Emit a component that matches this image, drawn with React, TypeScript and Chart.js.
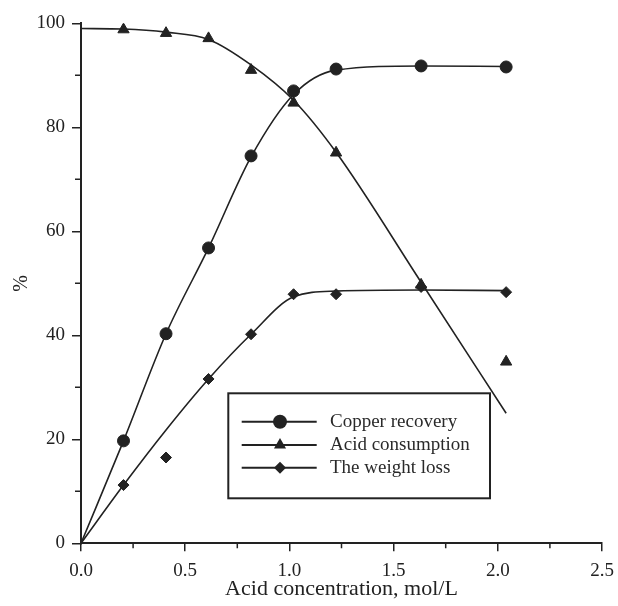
import React, { useEffect, useRef } from 'react';
import { Chart, registerables } from 'chart.js';

Chart.register(...registerables);

// Measured data (acid concentration, mol/L)
const concentration = [0.204, 0.408, 0.612, 0.816, 1.02, 1.224, 1.632, 2.04];
const copperRecovery = [19.7, 40.3, 56.8, 74.5, 87.0, 91.2, 91.8, 91.6];
const acidConsumption = [98.8, 98.1, 97.1, 91.0, 84.7, 75.1, 49.7, 34.9];
const weightLoss = [11.2, 16.5, 31.6, 40.2, 47.9, 47.9, 49.3, 48.3];

// Fitted curves
const fitConcentration = [0, 0.204, 0.408, 0.612, 0.816, 1.02, 1.224, 1.632, 2.04];
const copperFit = [0, 19.7, 40.3, 56.8, 74.3, 86.3, 91.0, 91.8, 91.7];
const acidFit = [99.0, 98.9, 98.3, 96.9, 92.0, 85.2, 75.2, 50.2, 25.0];
const weightFit = [0, 11.2, 21.8, 31.6, 40.2, 47.4, 48.5, 48.7, 48.6];

const xTicks = [0, 0.5, 1.0, 1.5, 2.0, 2.5];
const yTicks = [0, 20, 40, 60, 80, 100];
const xMinorTicks = [0.25, 0.75, 1.25, 1.75, 2.25];
const yMinorTicks = [10, 30, 50, 70, 90];

const seriesNames = ['Copper recovery', 'Acid consumption', 'The weight loss'];
const pointShapes = ['circle', 'triangle', 'rectRot'];

const INK = '#222222';
const FONT = '"Liberation Serif", "Times New Roman", serif';

function pts(xs: number[], ys: number[]) {
  return xs.map((x, i) => ({ x, y: ys[i] }));
}

function drawMarker(ctx: CanvasRenderingContext2D, shape: string, x: number, y: number, r: number) {
  ctx.beginPath();
  if (shape === 'circle') {
    ctx.arc(x, y, r, 0, Math.PI * 2);
  } else if (shape === 'triangle') {
    ctx.moveTo(x, y - r);
    ctx.lineTo(x + r * Math.sin(Math.PI * 2 / 3), y - r * Math.cos(Math.PI * 2 / 3));
    ctx.lineTo(x - r * Math.sin(Math.PI * 2 / 3), y - r * Math.cos(Math.PI * 2 / 3));
    ctx.closePath();
  } else {
    ctx.moveTo(x, y - r);
    ctx.lineTo(x + r, y);
    ctx.lineTo(x, y + r);
    ctx.lineTo(x - r, y);
    ctx.closePath();
  }
  ctx.fill();
}

export default function App() {
  const ref = useRef<HTMLCanvasElement>(null);

  useEffect(() => {
    document.body.style.margin = '0';
    document.documentElement.style.overflow = 'hidden';
    document.body.style.overflow = 'hidden';
    const canvas = ref.current;
    if (!canvas) return;

    const minorTicksPlugin = {
      id: 'minorTicks',
      afterDraw(chart: any) {
        const ctx = chart.ctx;
        const xs = chart.scales.x;
        const ys = chart.scales.y;
        const ca = chart.chartArea;
        ctx.save();
        ctx.strokeStyle = INK;
        ctx.lineWidth = 1.5;
        ctx.beginPath();
        yMinorTicks.forEach((v) => {
          const py = ys.getPixelForValue(v);
          ctx.moveTo(ca.left - 6, py);
          ctx.lineTo(ca.left, py);
        });
        xMinorTicks.forEach((v) => {
          const px = xs.getPixelForValue(v);
          ctx.moveTo(px, ca.bottom);
          ctx.lineTo(px, ca.bottom + 5);
        });
        ctx.stroke();
        ctx.restore();
      },
    };

    const legendPlugin = {
      id: 'boxLegend',
      afterDraw(chart: any) {
        const ctx = chart.ctx;
        const ca = chart.chartArea;
        const bx = ca.left + 147.3;
        const by = ca.top + 370;
        const bw = 261.7;
        const bh = 105;
        const rows = [28.4, 51.7, 74.4];
        const radii = [7, 7, 6];
        ctx.save();
        ctx.fillStyle = '#ffffff';
        ctx.fillRect(bx, by, bw, bh);
        ctx.strokeStyle = INK;
        ctx.lineWidth = 2;
        ctx.strokeRect(bx, by, bw, bh);
        seriesNames.forEach((name, i) => {
          const ry = by + rows[i];
          ctx.strokeStyle = INK;
          ctx.lineWidth = 2;
          ctx.beginPath();
          ctx.moveTo(bx + 13.4, ry);
          ctx.lineTo(bx + 88.4, ry);
          ctx.stroke();
          ctx.fillStyle = INK;
          drawMarker(ctx, pointShapes[i], bx + 51.7, ry, radii[i]);
          ctx.fillStyle = '#2a2a2a';
          ctx.font = `19px ${FONT}`;
          ctx.textAlign = 'left';
          ctx.textBaseline = 'middle';
          ctx.fillText(name, bx + 101.7, ry);
        });
        ctx.restore();
      },
    };

    const markerSets = [copperRecovery, acidConsumption, weightLoss].map((ys, i) => ({
      label: seriesNames[i],
      data: pts(concentration, ys),
      showLine: false,
      pointStyle: pointShapes[i],
      pointRadius: [6, 6.5, 5.5][i],
      pointBackgroundColor: INK,
      pointBorderColor: INK,
      pointBorderWidth: 1,
    }));

    const curveSets = [copperFit, acidFit, weightFit].map((ys, i) => ({
      label: seriesNames[i] + ' fit',
      data: pts(fitConcentration, ys),
      showLine: true,
      borderColor: INK,
      borderWidth: 1.6,
      pointRadius: 0,
      cubicInterpolationMode: 'monotone' as const,
      fill: false,
    }));

    const chart = new Chart(canvas, {
      type: 'scatter',
      data: { datasets: [...markerSets, ...curveSets] as any },
      options: {
        animation: false,
        responsive: false,
        maintainAspectRatio: false,
        layout: { padding: { top: 23.3, right: 16, left: 0, bottom: 0 } },
        plugins: {
          legend: { display: false },
          tooltip: { enabled: false },
        },
        scales: {
          x: {
            type: 'linear',
            min: 0,
            max: 2.5,
            afterBuildTicks(scale: any) {
              scale.ticks = xTicks.map((v) => ({ value: v }));
            },
            afterFit(scale: any) {
              scale.height = 62.7;
              scale.paddingLeft = 0;
              scale.paddingRight = 0;
            },
            ticks: {
              color: INK,
              font: { family: FONT, size: 19 },
              padding: 8,
              maxRotation: 0,
              autoSkip: false,
              callback: (v: any) => Number(v).toFixed(1),
            },
            grid: {
              display: true,
              drawOnChartArea: false,
              drawTicks: true,
              tickLength: 8,
              color: INK,
              lineWidth: 1.5,
            },
            border: { display: true, color: INK, width: 2 },
            title: {
              display: true,
              text: 'Acid concentration, mol/L',
              color: INK,
              font: { family: FONT, size: 22 },
              padding: { top: 0, bottom: 4 },
            },
          },
          y: {
            type: 'linear',
            min: 0,
            max: 100,
            afterBuildTicks(scale: any) {
              scale.ticks = yTicks.map((v) => ({ value: v }));
            },
            afterFit(scale: any) {
              scale.width = 81;
              scale.paddingTop = 0;
              scale.paddingBottom = 0;
            },
            ticks: {
              color: INK,
              font: { family: FONT, size: 19 },
              padding: 7,
              autoSkip: false,
              callback: (v: any) => String(v),
            },
            grid: {
              display: true,
              drawOnChartArea: false,
              drawTicks: true,
              tickLength: 9,
              color: INK,
              lineWidth: 1.5,
            },
            border: { display: true, color: INK, width: 2 },
            title: {
              display: true,
              text: '%',
              color: INK,
              font: { family: FONT, size: 20 },
              padding: { top: 10, bottom: 0 },
            },
          },
        },
      },
      plugins: [minorTicksPlugin, legendPlugin],
    });

    return () => chart.destroy();
  }, []);

  return (
    <div style={{ width: 618, height: 606 }}>
      <canvas ref={ref} width={618} height={606} style={{ display: 'block' }} />
    </div>
  );
}
